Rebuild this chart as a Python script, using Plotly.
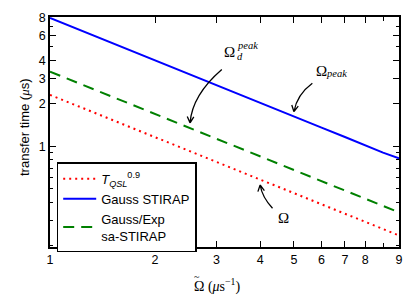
import math
import plotly.graph_objects as go

# ---------------- data ----------------
omega = [1, 2, 3, 4, 5, 6, 7, 8, 9, 10]
t_qsl = [2.30, 1.16, 0.775, 0.58, 0.465, 0.39, 0.333, 0.292, 0.26, 0.235]
t_gauss = [8.0, 4.0, 2.68, 2.01, 1.61, 1.35, 1.16, 1.01, 0.90, 0.82]
t_exp = [3.35, 1.69, 1.13, 0.85, 0.68, 0.57, 0.49, 0.43, 0.38, 0.342]

names = ["<i>T</i><sub><i>QSL</i></sub><sup>0.9</sup>", "Gauss STIRAP", "Gauss/Exp<br>sa-STIRAP"]

x_tickvals = [1, 2, 3, 4, 5, 6, 7, 8, 10]
x_ticktext = ["1", "2", "3", "4", "5", "6", "7", "8", "9"]
x_minor = [9]
y_tickvals = [1, 2, 3, 4, 6, 8]
y_ticktext = ["1", "2", "3", "4", "6", "8"]
y_minor = [0.2, 0.3, 0.4, 0.5, 0.6, 0.7, 0.8, 0.9, 5, 7]

# ---------------- layout geometry ----------------
W, H = 415, 305
L, R, T, B = 50, 16, 17, 58
PW, PH = W - L - R, H - T - B
XR = [0, 1]
YR = [-0.71, 0.91]

SANS = "Liberation Sans, Arial, sans-serif"
SERIF = "Liberation Serif, Times New Roman, serif"

def to_px(x, y):
    px = L + PW * (math.log10(x) - XR[0]) / (XR[1] - XR[0])
    py = T + PH * (YR[1] - math.log10(y)) / (YR[1] - YR[0])
    return px, py

def to_paper(px, py):
    return (px - L) / PW, 1 - (py - T) / PH

fig = go.Figure()
fig.add_trace(go.Scatter(x=omega, y=t_qsl, mode="lines", name=names[0],
                         line=dict(color="rgb(255,0,0)", width=2, dash="2px,4px")))
fig.add_trace(go.Scatter(x=omega, y=t_gauss, mode="lines", name=names[1],
                         line=dict(color="rgb(0,0,255)", width=2)))
fig.add_trace(go.Scatter(x=omega, y=t_exp, mode="lines", name=names[2],
                         line=dict(color="rgb(0,128,0)", width=2, dash="11px,7px")))

# ---------------- curved arrows ----------------
arrows = [
    dict(tip=(2.52, 1.46), start=(31.7, -53.4), ctrl=(2, -27.7)),
    dict(tip=(5.0, 1.75), start=(18.4, -28.4), ctrl=(3, -17)),
    dict(tip=(4.0, 0.533), start=(12.4, 23.3), ctrl=(2, 12)),
]
shapes = []
for a in arrows:
    tx, ty = to_px(*a["tip"])
    sx, sy = tx + a["start"][0], ty + a["start"][1]
    cx, cy = tx + a["ctrl"][0], ty + a["ctrl"][1]
    p0 = to_paper(sx, sy); p1 = to_paper(cx, cy); p2 = to_paper(tx, ty)
    path = f"M {p0[0]},{p0[1]} Q {p1[0]},{p1[1]} {p2[0]},{p2[1]}"
    dx, dy = tx - cx, ty - cy
    n = math.hypot(dx, dy); dx, dy = dx / n, dy / n
    for ang in (28, -28):
        r = math.radians(ang)
        rx = dx * math.cos(r) - dy * math.sin(r)
        ry = dx * math.sin(r) + dy * math.cos(r)
        hx, hy = tx - 7 * rx, ty - 7 * ry
        q = to_paper(hx, hy)
        path += f" M {p2[0]},{p2[1]} L {q[0]},{q[1]}"
    shapes.append(dict(type="path", xref="paper", yref="paper", path=path,
                       line=dict(color="black", width=1.3)))

annotations = []
def add_text(px, py, text, size, xanchor="center", family=SERIF):
    x, y = to_paper(px, py)
    annotations.append(dict(x=x, y=y, xref="paper", yref="paper", text=text,
                            showarrow=False, xanchor=xanchor, yanchor="middle",
                            font=dict(family=family, size=size, color="black")))

t1 = to_px(*arrows[0]["tip"])
add_text(t1[0] + 39, t1[1] - 71, "Ω", 15)
add_text(t1[0] + 45, t1[1] - 77, "<i>peak</i>", 10.5, xanchor="left")
add_text(t1[0] + 45, t1[1] - 66.5, "<i>d</i>", 10.5, xanchor="left")
t2 = to_px(*arrows[1]["tip"])
add_text(t2[0] + 20, t2[1] - 41, "Ω", 15, xanchor="left")
add_text(t2[0] + 30, t2[1] - 38.5, "<i>peak</i>", 10.5, xanchor="left")
t3 = to_px(*arrows[2]["tip"])
add_text(t3[0] + 23, t3[1] + 33, "Ω", 15)

# axis titles
add_text(192, 285, "Ω (<i>μ</i>s<sup>−1</sup>)", 14, xanchor="left")
add_text(197, 276, "~", 10)
yt = to_paper(15, 127.5)
annotations.append(dict(x=yt[0], y=yt[1], xref="paper", yref="paper", showarrow=False,
                        textangle=-90,
                        text="transfer time (<span style=\"font-family:Liberation Serif\"><i>μ</i></span>s)",
                        font=dict(family=SANS, size=13, color="black")))

axis_common = dict(showgrid=False, zeroline=False, showline=True, linecolor="black",
                   linewidth=1.5, mirror="allticks", ticks="inside", tickcolor="black",
                   tickwidth=1, ticklen=6,
                   tickfont=dict(family=SANS, size=12.5, color="black"))

fig.update_layout(
    width=W, height=H,
    margin=dict(l=L, r=R, t=T, b=B),
    paper_bgcolor="white", plot_bgcolor="white",
    xaxis=dict(type="log", range=XR, tickmode="array", tickvals=x_tickvals,
               ticktext=x_ticktext,
               minor=dict(tickmode="array", tickvals=x_minor, ticks="inside",
                          ticklen=4, tickcolor="black", tickwidth=1),
               **axis_common),
    yaxis=dict(type="log", range=YR, tickmode="array", tickvals=y_tickvals,
               ticktext=y_ticktext,
               minor=dict(tickmode="array", tickvals=y_minor, ticks="inside",
                          ticklen=3.5, tickcolor="black", tickwidth=1),
               **axis_common),
    legend=dict(x=(56.7 - L) / PW, y=1 - (162.3 - T) / PH, xanchor="left", yanchor="top",
                bgcolor="white", bordercolor="black", borderwidth=1.5,
                font=dict(family=SANS, size=13, color="black"),
                itemwidth=33, tracegroupgap=0),
    shapes=shapes,
    annotations=annotations,
    showlegend=True,
)

fig.write_html("out.html", config={"displayModeBar": False},
               post_script="document.body.style.margin='0px';")
